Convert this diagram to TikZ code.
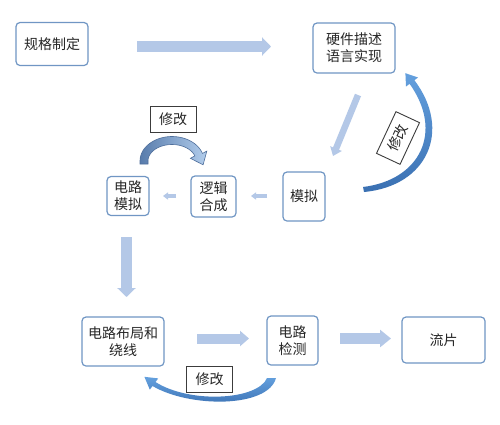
\documentclass[tikz,border=0pt]{standalone}
\usepackage{fontspec}
\setmainfont{Noto Sans CJK SC}
\usetikzlibrary{arrows.meta}
\definecolor{boxc}{RGB}{112,150,196}
\definecolor{txtc}{RGB}{38,38,38}
\definecolor{blkc}{RGB}{180,200,231}
\definecolor{notec}{RGB}{60,60,60}
\definecolor{arcdark}{RGB}{88,124,172}
\definecolor{arclight}{RGB}{178,205,236}
\definecolor{arcline}{RGB}{78,110,155}
\definecolor{bluetop}{RGB}{100,160,222}
\definecolor{bluebot}{RGB}{58,112,178}
\begin{document}
\begin{tikzpicture}[x=1pt,y=-1pt,
  box/.style={draw=boxc, line width=1.2pt, rounded corners=4pt, fill=white,
    inner sep=0pt, align=center, text=txtc, font=\fontsize{14}{17}\selectfont},
  note/.style={draw=notec, line width=0.9pt, fill=white, inner sep=0pt,
    minimum width=46pt, minimum height=26pt, text=txtc, font=\fontsize{14}{17}\selectfont},
  blk/.style={draw=blkc, line width=#1},
  blk/.default=11pt]
\useasboundingbox (0,0) rectangle (500,424);
\fill[white] (0,0) rectangle (500,424);

% boxes
\node[box, minimum width=72pt, minimum height=43pt] (spec) at (52,44) {规格制定};
\node[box, minimum width=82pt, minimum height=50pt] (hdl) at (354,48) {硬件描述\\语言实现};
\node[box, minimum width=42pt, minimum height=39pt] (csim) at (128,196) {电路\\模拟};
\node[box, minimum width=45pt, minimum height=41pt] (syn) at (213.5,196.5) {逻辑\\合成};
\node[box, minimum width=42pt, minimum height=49pt] (sim) at (304,196.5) {模拟};
\node[box, minimum width=82pt, minimum height=49pt] (pr) at (123,341.5) {电路布局和\\绕线};
\node[box, minimum width=51pt, minimum height=49pt] (chk) at (292.5,340.5) {电路\\检测};
\node[box, minimum width=83pt, minimum height=46pt] (tape) at (443.5,340) {流片};

% notes
\node[note] (n1) at (173,119) {修改};
\node[note, rotate=65] (n2) at (398,138) {修改};
\node[note] (n3) at (209.5,379.5) {修改};

% block arrows
\coordinate (t1) at (137,46.5);  \coordinate (t2) at (271,46.5);
\coordinate (d1) at (358,95);    \coordinate (d2) at (333,156);
\coordinate (s1) at (267,196);   \coordinate (s2) at (251,196);
\coordinate (s3) at (176,196);   \coordinate (s4) at (163,196);
\coordinate (v1) at (126.5,237); \coordinate (v2) at (126.5,297);
\coordinate (h1) at (197,338.5); \coordinate (h2) at (249,338.5);
\coordinate (h3) at (340,338.5); \coordinate (h4) at (391,338.5);
\draw[blk=11pt, -{Triangle[width=18pt,length=9pt]}] (t1) -- (t2);
\draw[blk=6.5pt, -{Triangle[width=12pt,length=8pt]}] (d1) -- (d2);
\draw[blk=4pt, -{Triangle[width=7pt,length=5pt]}] (s1) -- (s2);
\draw[blk=4pt, -{Triangle[width=7pt,length=5pt]}] (s3) -- (s4);
\draw[blk=11pt, -{Triangle[width=18pt,length=9pt]}] (v1) -- (v2);
\draw[blk=10pt, -{Triangle[width=15pt,length=9pt]}] (h1) -- (h2);
\draw[blk=11pt, -{Triangle[width=17pt,length=11pt]}] (h3) -- (h4);

% curved arrow above 电路模拟 / 逻辑合成
\shadedraw[left color=arcdark, right color=arclight, draw=arcline, line width=0.6pt]
  (140,164) -- plot[domain=180:18, samples=40, variable=\t] ({172+32*cos(\t)},{161-24.5*sin(\t)})
  -- (206.8,151.1) -- (203.1,164.8) -- (190.4,158.3)
  -- plot[domain=18:180, samples=40, variable=\t] ({172+24*cos(\t)},{161-16.5*sin(\t)})
  -- (148,164) -- cycle;

% curved arrow from 模拟 to 硬件描述
\shade[top color=bluetop, bottom color=bluebot]
  (364,192) .. controls (428,186) and (452,130) .. (414.4,80.2)
  -- (418,77.5) -- (405.4,73.2) -- (406,86.5) -- (409.6,83.8)
  .. controls (444,132) and (420,180) .. (363,187) -- cycle;

% curved arrow from 电路检测 back to 电路布局和绕线
\shade[top color=bluetop, bottom color=bluebot]
  (276,378) .. controls (268,408) and (190,408) .. (152.5,386)
  -- (149.8,389.6) -- (144.4,376.8) -- (158.2,378.4) -- (155.5,382)
  .. controls (190,404) and (258,400) .. (267,378) -- cycle;
\end{tikzpicture}
\end{document}
